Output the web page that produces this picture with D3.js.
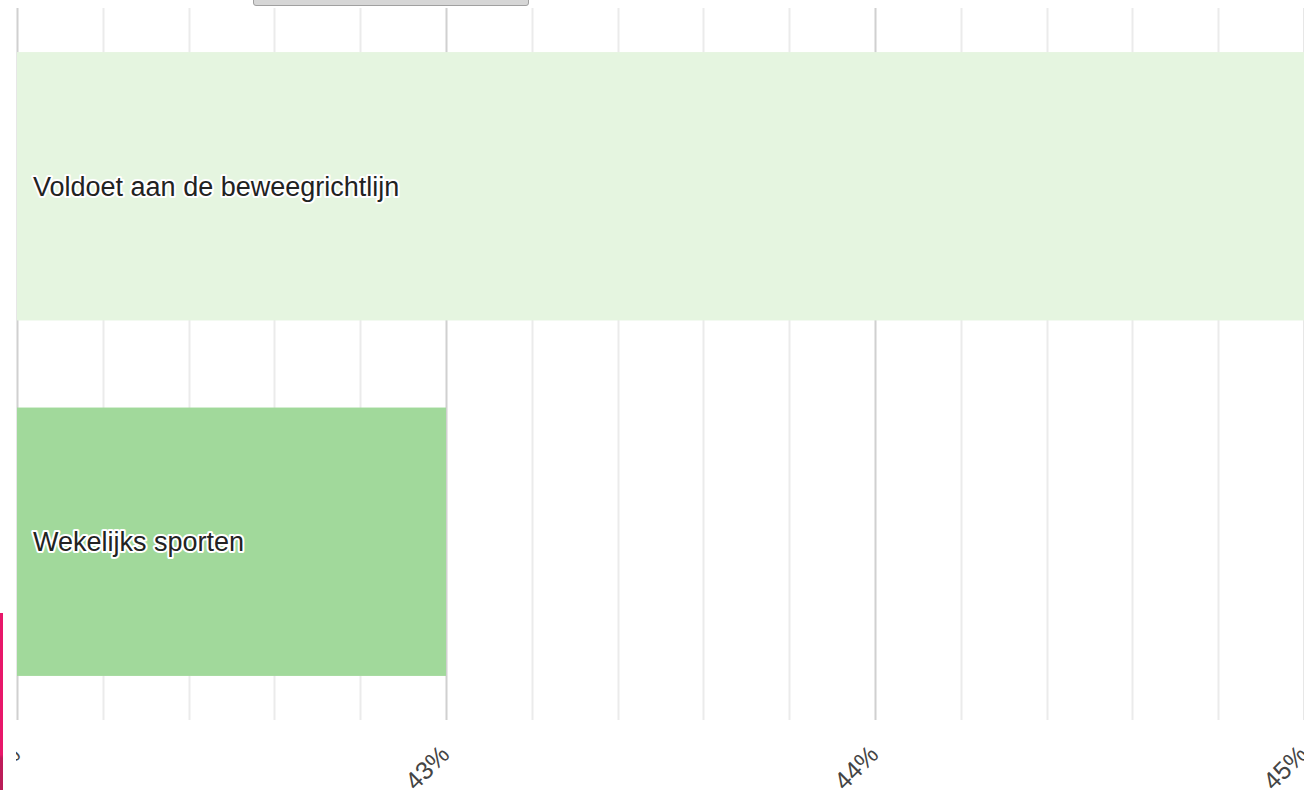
<!DOCTYPE html>
<meta charset="utf-8">
<style>
    body {
        margin: 0;
        overflow: hidden;
        background: #fff;
        font-family: "Liberation Sans", Arial, sans-serif;
    }
    .grid line {
        stroke: #ebebeb;
        stroke-width: 2px;
    }
    .grid line.major {
        stroke: #d0d0d0;
    }
    .label {
        font-size: 27px;
        fill: #222;
        paint-order: stroke;
        stroke: #fff;
        stroke-width: 4px;
        stroke-linejoin: round;
    }
    .tick-label {
        font-size: 25px;
        fill: #444;
    }
    .topbtn {
        position: absolute;
        left: 253px;
        top: -6px;
        width: 274px;
        height: 10px;
        background: #d6d6d6;
        border: 1px solid #a0a0a0;
        border-radius: 3px;
    }
    .sidebar {
        position: absolute;
        left: 0;
        top: 613px;
        width: 3px;
        height: 177px;
        background: linear-gradient(#e8176a 0%, #e8176a 80%, #c01b5a 82%, #b81d57 100%);
    }
</style>
<svg width="1340" height="790"></svg>
<div class="topbtn"></div>
<div class="sidebar"></div>
<script src="https://d3js.org/d3.v7.min.js"></script>
<script>

    var categories = ["Voldoet aan de beweegrichtlijn", "Wekelijks sporten"];
    var values = [45.4, 43.0];
    var colors = ["#e5f5e0", "#a1d99b"];
    var tickValues = [42, 43, 44, 45];
    var tickLabels = ["42%", "43%", "44%", "45%"];

    var svg = d3.select("svg"),
        plotLeft = 17,
        plotTop = 8,
        plotBottom = 720;

    var x = d3.scaleLinear()
        .domain([42, 45])
        .range([plotLeft, 1304]);

    var y = d3.scaleBand()
        .domain(categories)
        .range([plotTop, plotBottom])
        .paddingInner(0.245)
        .paddingOuter(0.124);

    // gridlines, every 0.2 pct point
    var gridVals = d3.range(42, 45.01, 0.2);
    svg.append("g")
        .attr("class", "grid")
        .selectAll("line")
        .data(gridVals)
        .enter().append("line")
        .attr("class", function(d) { return Math.abs(d - Math.round(d)) < 1e-6 ? "major" : null; })
        .attr("x1", function(d) { return Math.round(x(d)) + 0.5; })
        .attr("x2", function(d) { return Math.round(x(d)) + 0.5; })
        .attr("y1", plotTop)
        .attr("y2", plotBottom);

    svg.append("g")
        .selectAll("rect")
        .data(categories)
        .enter().append("rect")
        .attr("x", x(42))
        .attr("y", function(d) { return y(d); })
        .attr("width", function(d, i) { return x(values[i]) - x(42); })
        .attr("height", y.bandwidth())
        .attr("fill", function(d, i) { return colors[i]; });

    svg.append("g")
        .selectAll("text")
        .data(categories)
        .enter().append("text")
        .attr("class", "label")
        .attr("x", plotLeft + 16)
        .attr("y", function(d) { return y(d) + y.bandwidth() / 2; })
        .attr("dy", "0.35em")
        .text(function(d) { return d; });

    // rotated tick labels
    svg.append("g")
        .selectAll("text")
        .data(tickValues)
        .enter().append("text")
        .attr("class", "tick-label")
        .attr("text-anchor", "end")
        .attr("transform", function(d) { return "translate(" + (x(d) + 5) + ",756) rotate(-45)"; })
        .text(function(d, i) { return tickLabels[i]; });

    // hide what falls left of the plot, like the original page does
    svg.append("rect")
        .attr("x", 0)
        .attr("y", 722)
        .attr("width", plotLeft - 1)
        .attr("height", 68)
        .attr("fill", "#fff");

</script>
